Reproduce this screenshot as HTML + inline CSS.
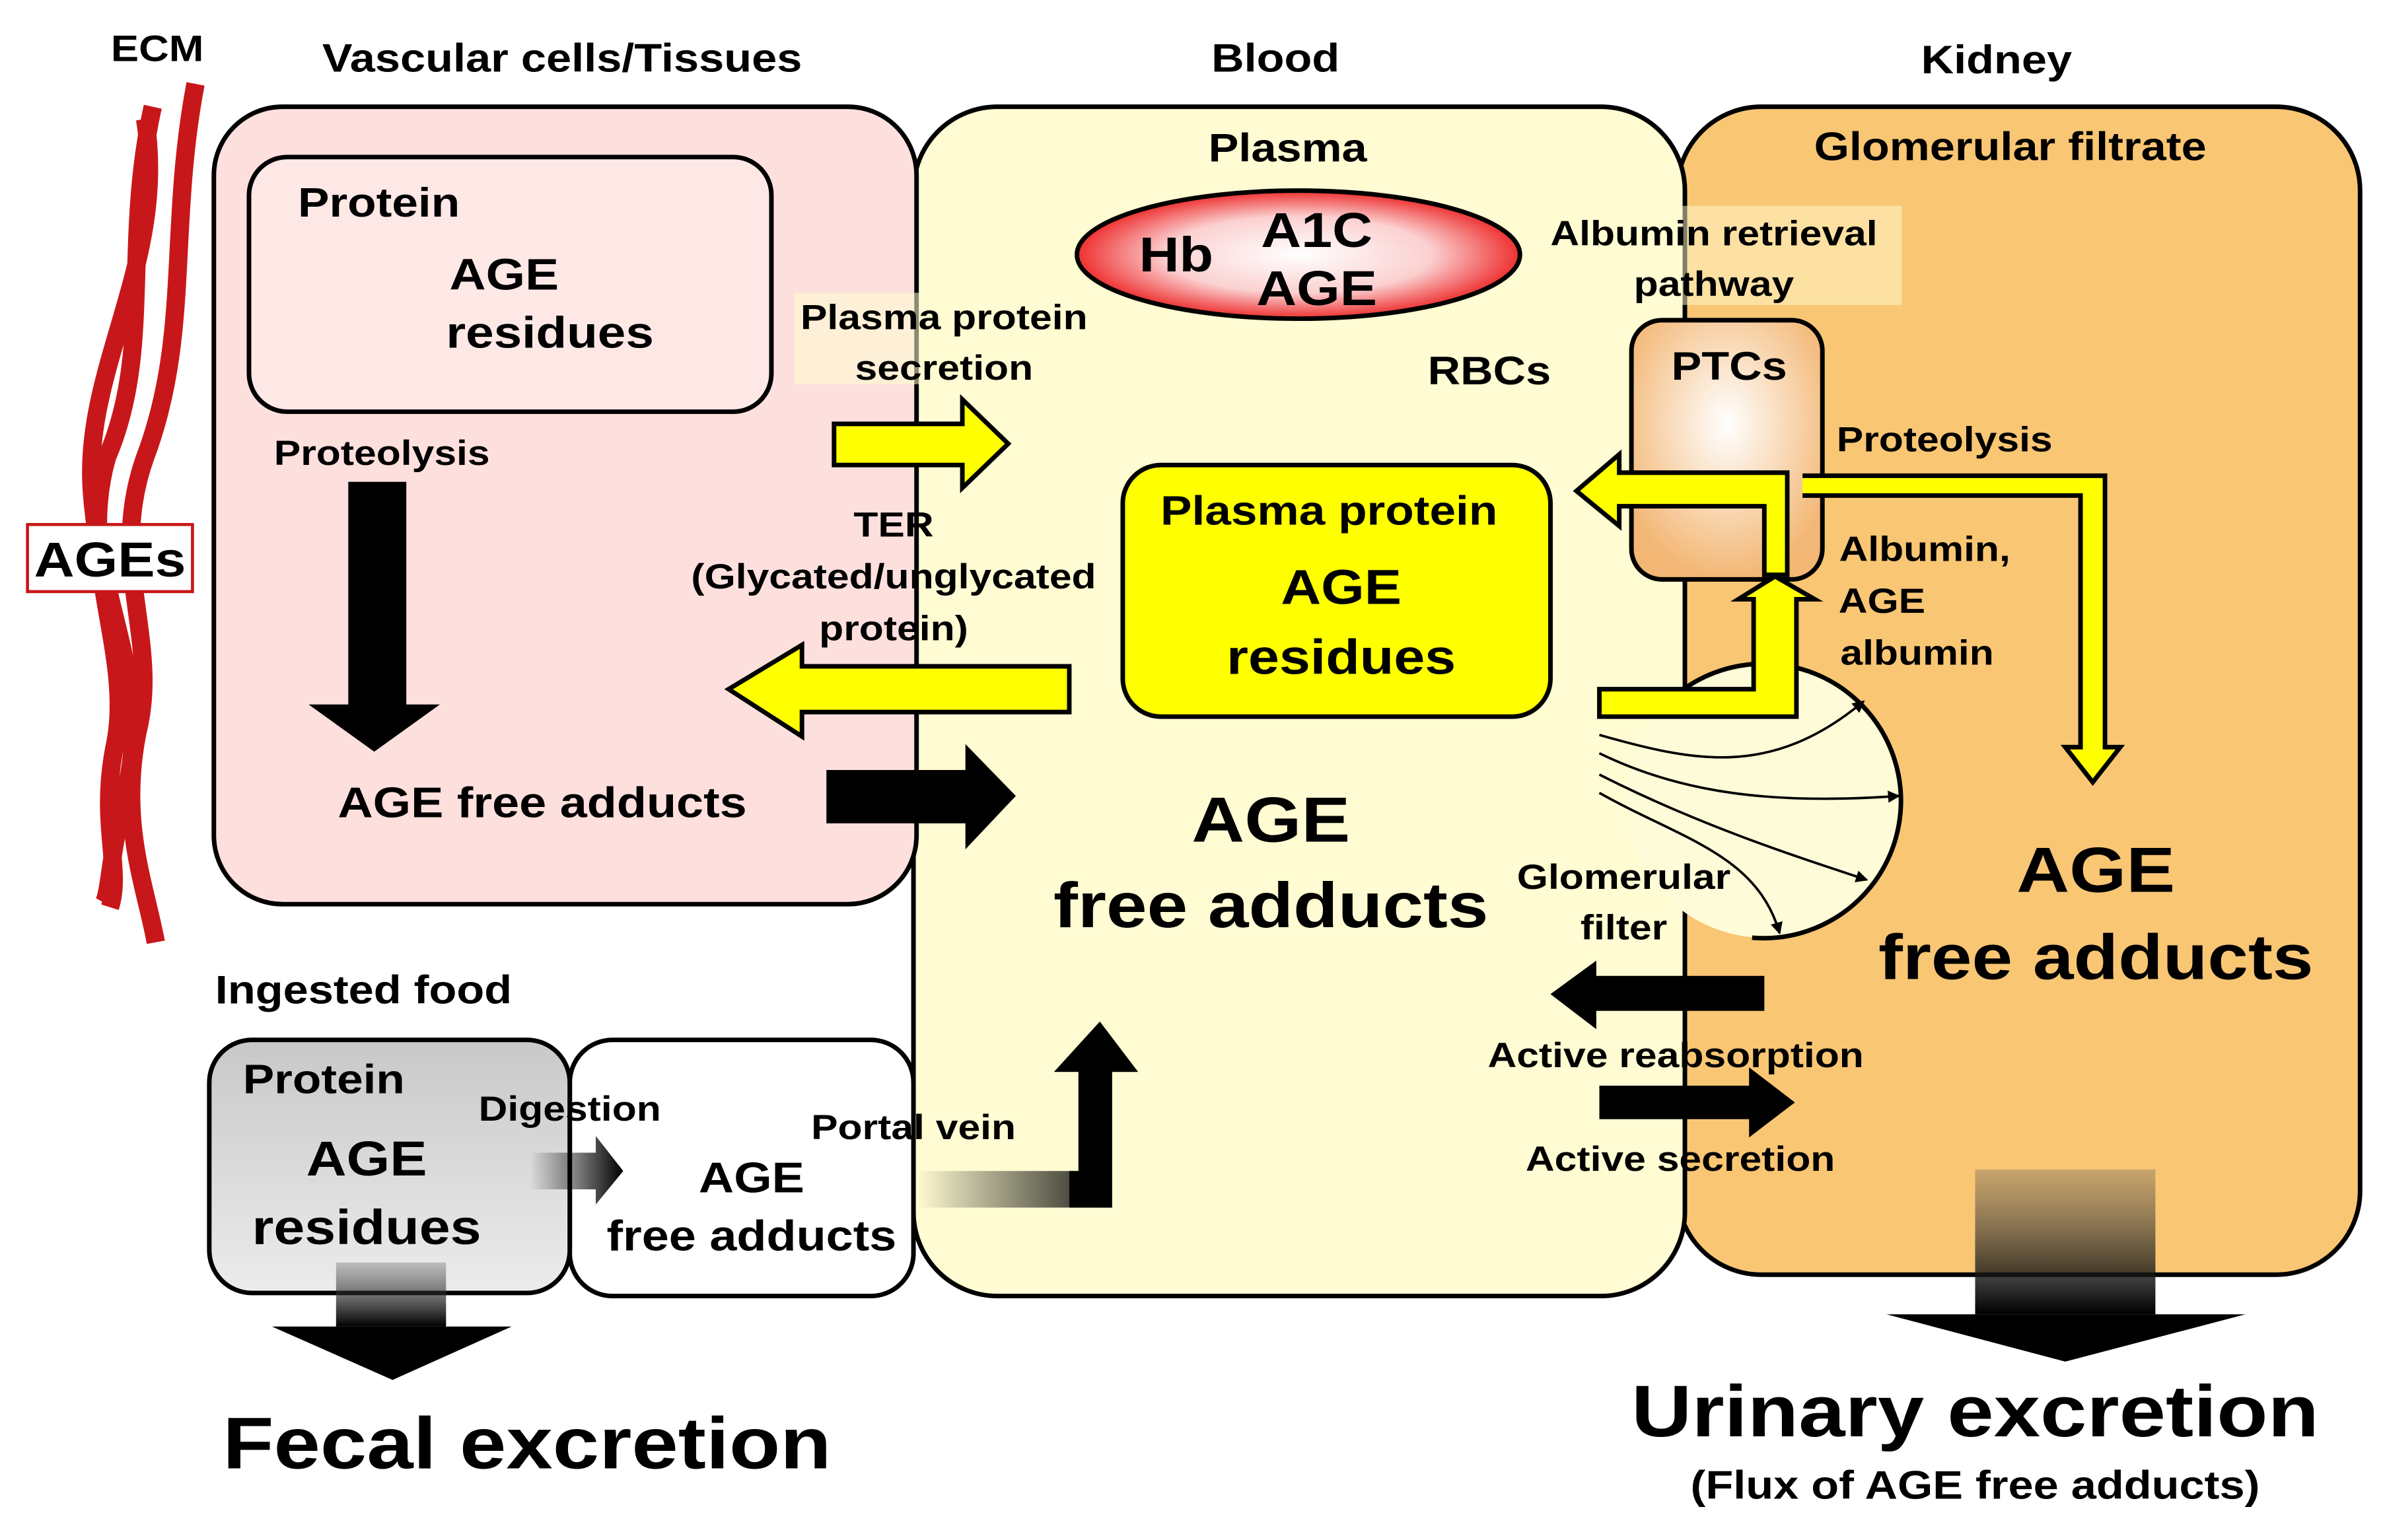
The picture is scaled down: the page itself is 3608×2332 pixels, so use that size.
<!DOCTYPE html>
<html><head><meta charset="utf-8"><style>
html,body{margin:0;padding:0;background:#fff;}
svg{display:block;}
text{font-family:"Liberation Sans",Arial,sans-serif;font-weight:bold;fill:#000;text-anchor:middle;transform-box:fill-box;transform-origin:center;transform:scaleX(1.14);}
</style></head><body>
<svg width="3608" height="2332" viewBox="0 0 1560 1010" preserveAspectRatio="none" xmlns="http://www.w3.org/2000/svg">
<defs>
<radialGradient id="rg" cx="50%" cy="50%" r="50%"><stop offset="0" stop-color="#fff"/><stop offset="0.6" stop-color="#fbd0d0"/><stop offset="1" stop-color="#ee3030"/></radialGradient>
<radialGradient id="pg" cx="50%" cy="40%" r="60%"><stop offset="0" stop-color="#fff"/><stop offset="1" stop-color="#f3b775"/></radialGradient>
<linearGradient id="gray" x1="0" y1="0" x2="0" y2="1"><stop offset="0" stop-color="#c8c8c8"/><stop offset="1" stop-color="#ececec"/></linearGradient>
<linearGradient id="fadeL" x1="0" y1="0" x2="1" y2="0"><stop offset="0" stop-color="#000" stop-opacity="0"/><stop offset="1" stop-color="#000"/></linearGradient>
<linearGradient id="fadeD" x1="0" y1="0" x2="0" y2="1"><stop offset="0" stop-color="#555" stop-opacity="0.3"/><stop offset="1" stop-color="#000"/></linearGradient>
<marker id="ah" markerWidth="8" markerHeight="8" refX="7" refY="4" orient="auto" markerUnits="userSpaceOnUse"><path d="M0,0 L8,4 L0,8 Z" fill="#000"/></marker>
</defs>

<!-- kidney -->
<rect x="1098" y="70" width="447" height="766" rx="55" fill="#f9c674" stroke="#000" stroke-width="3"/>
<!-- blood -->
<rect x="598" y="70" width="505" height="780" rx="55" fill="#fffbd2" stroke="#000" stroke-width="3"/>
<!-- vascular -->
<rect x="140" y="70" width="460" height="523" rx="45" fill="#fde0dd" stroke="#000" stroke-width="3"/>
<rect x="163" y="103" width="342" height="167" rx="25" fill="#fde8e6" stroke="#000" stroke-width="3"/>

<!-- ECM fibers -->
<g fill="none" stroke="#c8171a" stroke-width="12">
<path d="M128,55 C110,150 125,220 95,300 C70,370 105,420 90,480 C78,540 95,580 102,618"/>
<path d="M100,70 C80,160 100,230 70,300 C50,370 88,430 75,490 C65,540 80,570 72,595"/>
<path d="M95,78 C110,170 55,240 60,320 C65,400 100,450 82,520 C72,560 72,585 68,592"/>
</g>
<rect x="18" y="344" width="108" height="44" fill="#fff" stroke="#c8171a" stroke-width="2"/>
<text x="72" y="378" font-size="32">AGEs</text>
<text x="103" y="40" font-size="24">ECM</text>
<text x="368" y="47" font-size="26">Vascular cells/Tissues</text>
<text x="835" y="47" font-size="26">Blood</text>
<text x="1307" y="48" font-size="26">Kidney</text>

<text x="248" y="142" font-size="27">Protein</text>
<text x="330" y="190" font-size="29">AGE</text>
<text x="360" y="228" font-size="29">residues</text>
<text x="250" y="305" font-size="23">Proteolysis</text>
<polygon points="228,316 266,316 266,462 288,462 245,493 202,462 228,462" fill="#000"/>
<text x="355" y="536" font-size="28">AGE free adducts</text>
<polygon points="541,505 632,505 632,488 665,522 632,557 632,540 541,540" fill="#000"/>

<polygon points="546,278 630,278 630,262 660,291 630,320 630,305 546,305" fill="#ffff00" stroke="#000" stroke-width="3"/>
<rect x="520" y="192" width="200" height="60" fill="#fffbd2" opacity="0.55"/>
<text x="618" y="216" font-size="23">Plasma protein</text>
<text x="618" y="249" font-size="23">secretion</text>
<text x="585" y="352" font-size="23">TER</text>
<text x="585" y="386" font-size="23">(Glycated/unglycated</text>
<text x="585" y="420" font-size="23">protein)</text>
<polygon points="700,437 525,437 525,423 477,452 525,483 525,467 700,467" fill="#ffff00" stroke="#000" stroke-width="3"/>

<text x="843" y="106" font-size="26">Plasma</text>
<ellipse cx="850" cy="167" rx="145" ry="42" fill="url(#rg)" stroke="#000" stroke-width="3"/>
<text x="770" y="178" font-size="32">Hb</text>
<text x="862" y="162" font-size="32">A1C</text>
<text x="862" y="200" font-size="32">AGE</text>
<text x="975" y="252" font-size="26">RBCs</text>
<rect x="1005" y="135" width="240" height="65" fill="#fffbd2" opacity="0.5"/>
<text x="1122" y="161" font-size="23">Albumin retrieval</text>
<text x="1122" y="194" font-size="23">pathway</text>

<rect x="735" y="305" width="280" height="165" rx="25" fill="#ffff00" stroke="#000" stroke-width="3"/>
<text x="870" y="344" font-size="27">Plasma protein</text>
<text x="878" y="396" font-size="32">AGE</text>
<text x="878" y="442" font-size="32">residues</text>

<text x="832" y="552" font-size="42">AGE</text>
<text x="832" y="608" font-size="42">free adducts</text>

<!-- glomerulus -->
<circle cx="1155" cy="525" r="90" fill="#fefcd8"/>
<path d="M1097,456 A90,90 0 1,1 1147,615" fill="none" stroke="#000" stroke-width="3"/>
<g fill="none" stroke="#000" stroke-width="1.6" marker-end="url(#ah)">
<path d="M1047,482 C1110,500 1160,510 1220,460"/>
<path d="M1047,494 C1100,520 1160,528 1243,522"/>
<path d="M1047,508 C1110,540 1170,560 1222,577"/>
<path d="M1047,520 C1100,550 1150,560 1165,612"/>
</g>

<!-- PTCs -->
<rect x="1068" y="210" width="125" height="170" rx="20" fill="url(#pg)" stroke="#000" stroke-width="3"/>
<text x="1132" y="249" font-size="26">PTCs</text>
<text x="1273" y="296" font-size="23">Proteolysis</text>
<text x="1260" y="368" font-size="23">Albumin,</text>
<text x="1232" y="402" font-size="23">AGE</text>
<text x="1255" y="436" font-size="23">albumin</text>

<polygon points="1047,452 1148,452 1148,393 1138,393 1162,378 1188,393 1176,393 1176,470 1047,470" fill="#ffff00" stroke="#000" stroke-width="3"/>
<polygon points="1155,377 1170,377 1170,310 1060,310 1060,298 1032,322 1060,345 1060,332 1155,332" fill="#ffff00" stroke="#000" stroke-width="3"/>
<polyline points="1180,312 1378,312 1378,490 1388,490 1370,513 1352,490 1362,490 1362,325 1180,325" fill="#ffff00" stroke="#000" stroke-width="3"/>

<text x="1372" y="585" font-size="42">AGE</text>
<text x="1372" y="642" font-size="42">free adducts</text>
<text x="1316" y="105" font-size="26">Glomerular  filtrate</text>

<text x="1063" y="583" font-size="23">Glomerular</text>
<text x="1063" y="616" font-size="23">filter</text>
<polygon points="1155,640 1045,640 1045,630 1015,652 1045,675 1045,663 1155,663" fill="#000"/>
<text x="1097" y="700" font-size="23">Active reabsorption</text>
<polygon points="1047,712 1145,712 1145,700 1175,723 1145,746 1145,734 1047,734" fill="#000"/>
<text x="1100" y="768" font-size="23">Active secretion</text>

<rect x="1293" y="767" width="118" height="95" fill="url(#fadeD)"/>
<polygon points="1235,862 1470,862 1352,893" fill="#000"/>
<text x="1293" y="942" font-size="48">Urinary excretion</text>
<text x="1293" y="983" font-size="26">(Flux of AGE free adducts)</text>

<text x="238" y="658" font-size="26">Ingested food</text>
<rect x="373" y="682" width="225" height="168" rx="28" fill="#fff" stroke="#000" stroke-width="3"/>
<rect x="137" y="682" width="236" height="166" rx="28" fill="url(#gray)" stroke="#000" stroke-width="3"/>
<text x="212" y="717" font-size="27">Protein</text>
<text x="240" y="771" font-size="32">AGE</text>
<text x="240" y="816" font-size="32">residues</text>
<text x="373" y="735" font-size="23">Digestion</text>
<polygon points="347,756 390,756 390,745 408,768 390,790 390,780 347,780" fill="url(#fadeL)"/>
<text x="492" y="782" font-size="28">AGE</text>
<text x="492" y="820" font-size="28">free adducts</text>
<text x="598" y="747" font-size="23">Portal vein</text>
<polygon points="600,768 706,768 706,703 690,703 720,670 745,703 728,703 728,792 600,792" fill="url(#fadeL)"/>
<polygon points="700,768 706,768 706,703 690,703 720,670 745,703 728,703 728,792 700,792" fill="#000"/>
<rect x="220" y="828" width="72" height="42" fill="url(#fadeD)"/>
<polygon points="178,870 335,870 257,905" fill="#000"/>
<text x="345" y="963" font-size="48">Fecal excretion</text>
</svg>
</body></html>
